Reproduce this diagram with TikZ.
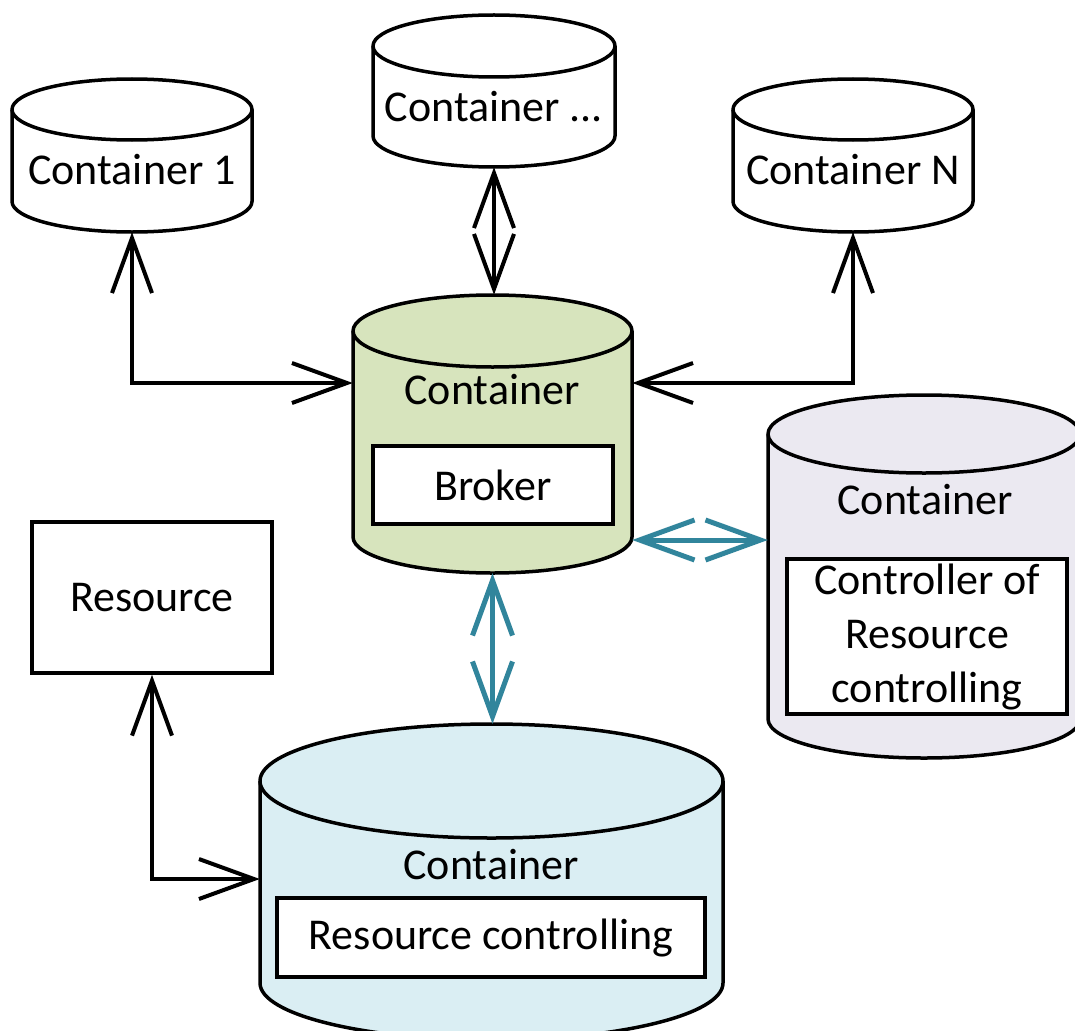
\documentclass[tikz,border=0pt]{standalone}
\usepackage{fontspec}
\setmainfont{Carlito}
\usetikzlibrary{arrows.meta}
\definecolor{teal1}{RGB}{49,133,156}
\definecolor{greenfill}{RGB}{215,228,189}
\definecolor{bluefill}{RGB}{218,238,243}
\definecolor{lavfill}{RGB}{235,233,241}
\tikzset{
  cylline/.style={line width=3.5pt, line join=round},
  boxstyle/.style={draw, line width=3.5pt, fill=white, inner sep=0pt},
  lbl/.style={font=\fontsize{44}{54}\selectfont, inner sep=0pt, align=center},
  conn/.style={line width=4pt, {Straight Barb[length=55pt,width=40pt]}-{Straight Barb[length=55pt,width=40pt]}},
  tconn/.style={conn, draw=teal1, line width=5pt},
}
\newcommand\mycyl[7]{%
  \pgfmathsetmacro\cx{(#2+#3)/2}%
  \pgfmathsetmacro\rx{(#3-#2)/2}%
  \pgfmathsetmacro\ct{#4+#6}%
  \pgfmathsetmacro\cb{#5-#6}%
  \pgfmathsetmacro\cy{(#4+#5)/2}%
  \pgfmathsetmacro\hh{#5-#4}%
  \pgfmathsetmacro\ww{#3-#2}%
  \draw[cylline, fill=#7] (#2,\ct) -- (#2,\cb) arc[start angle=180,end angle=0,x radius=\rx,y radius=#6] -- (#3,\ct) arc[start angle=0,end angle=-180,x radius=\rx,y radius=#6] -- cycle;
  \draw[cylline] (#2,\ct) arc[start angle=180,end angle=0,x radius=\rx,y radius=#6];
  \node[inner sep=0pt, minimum width=\ww pt, minimum height=\hh pt] (#1) at (\cx,\cy) {};
}
\begin{document}
\begin{tikzpicture}[x=1pt,y=-1pt]
\clip (0,0) rectangle (1075,1030);
\fill[white] (0,0) rectangle (1075,1030);
% cylinders
\mycyl{c1}{12}{252}{79}{232}{30.5}{white}
\mycyl{cd}{373}{615}{15}{167}{31}{white}
\mycyl{cn}{733}{973}{79}{232}{30.5}{white}
\mycyl{bk}{353}{632}{295}{573}{36}{greenfill}
\mycyl{ctl}{768}{1080}{395}{758}{39}{lavfill}
\mycyl{rc}{260}{723}{724}{1040}{57}{bluefill}
% labels
\node[lbl] (t1) at (132,170) {Container 1};
\node[lbl] (td) at (494,107) {Container ...};
\node[lbl] (tn) at (853,170) {Container N};
\node[lbl] (tbk) at (492,390) {Container};
\node[lbl] (tctl) at (925,500) {Container};
\node[lbl] (trc) at (491,865) {Container};
% inner boxes
\node[boxstyle, minimum width=240pt, minimum height=78pt] (broker) at (493,485) {};
\node[lbl] at (broker) {Broker};
\node[boxstyle, minimum width=280pt, minimum height=155pt] (ctlbox) at (927,636.5) {};
\node[lbl] at (ctlbox) {Controller of\\Resource\\controlling};
\node[boxstyle, minimum width=428pt, minimum height=79pt] (rcbox) at (491,937.5) {};
\node[lbl] at (rcbox) {Resource controlling};
\node[boxstyle, minimum width=240pt, minimum height=151pt] (res) at (152,597.5) {};
\node[lbl] at (res) {Resource};
% connectors
\draw[conn] (c1.south) |- ([yshift=51pt]bk.west);
\draw[conn] (cn.south) |- ([yshift=51pt]bk.east);
\draw[conn] (cd.south) -- (cd.south |- bk.north);
\draw[conn] (res.south) |- ([yshift=3pt]rc.west);
\draw[tconn] ([yshift=-106pt]bk.east) coordinate (ta) -- (ta -| ctl.west);
\draw[tconn] (bk.south) -- (bk.south |- rc.north);
\end{tikzpicture}
\end{document}
